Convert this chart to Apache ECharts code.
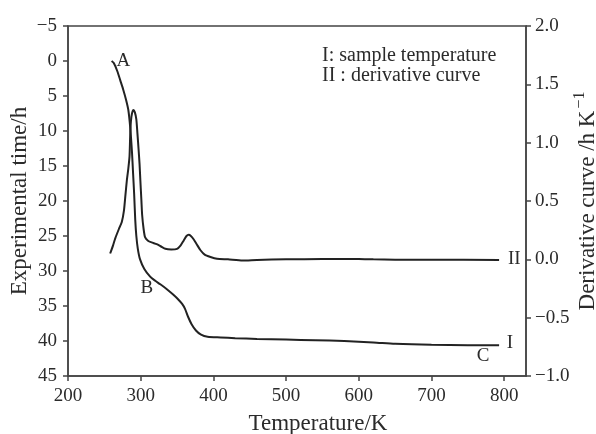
<!DOCTYPE html>
<html>
<head>
<meta charset="utf-8">
<script src="https://cdn.jsdelivr.net/npm/echarts@6/dist/echarts.min.js"></script>
<style>html,body{margin:0;padding:0;background:#fff}#c{width:596px;height:434px}</style>
</head>
<body>
<div id="c"></div>
<script>
// Curve I: sample temperature — [Temperature K, Experimental time h]
var curveI = [[260,0],[263,0.3],[268,1.5],[272,2.8],[276,4.1],[280,5.6],[283,7],[285.5,9.4],[288,13],[289.5,16],[291,19],[292.5,22.7],[294,25],[296,26.8],[299,28.3],[305,29.7],[313,30.8],[320,31.4],[327,31.9],[336,32.6],[345,33.4],[352,34.1],[357,34.7],[361,35.4],[365,36.5],[370,37.6],[376,38.5],[383,39.1],[392,39.4],[410,39.5],[430,39.6],[460,39.7],[500,39.8],[540,39.9],[580,40.0],[620,40.2],[650,40.4],[700,40.55],[750,40.6],[793,40.6]];
// Curve II: derivative curve — [Temperature K, derivative h/K]
var curveII = [[258,0.05],[262,0.12],[265,0.18],[270,0.26],[274,0.32],[277,0.42],[279,0.55],[281,0.68],[283,0.78],[284.6,0.88],[285.5,1.05],[286.5,1.18],[288,1.25],[290,1.28],[292,1.26],[294,1.2],[295.5,1.08],[297,0.95],[298.4,0.82],[299.5,0.68],[301,0.5],[302,0.38],[304,0.26],[306,0.19],[310,0.16],[315,0.145],[322,0.13],[328,0.11],[334,0.09],[342,0.085],[350,0.09],[355,0.12],[359,0.16],[363,0.2],[366,0.21],[369,0.2],[373,0.17],[377,0.13],[382,0.08],[388,0.04],[396,0.02],[405,0.005],[420,0],[440,-0.01],[460,-0.005],[500,0],[550,0.002],[600,0.003],[620,0],[650,-0.003],[700,-0.004],[793,-0.005]];
var xTicks = [200,300,400,500,600,700,800];
var leftTicks = [-5,0,5,10,15,20,25,30,35,40,45];
var rightTicks = [-1.0,-0.5,0.0,0.5,1.0,1.5,2.0];
// Point annotations (data coords)
var notesI = [{text:'A',coord:[276,0]},{text:'B',coord:[308.5,32.4]},{text:'C',coord:[771,42.1]},{text:'I',coord:[808,40.3]}];
var notesII = [{text:'II',coord:[814,0.0]}];

var FONT = '"Liberation Serif","Times New Roman",serif';
var INK = '#2b2b2b';
function minus(s){ return String(s).replace('-', '\u2212'); }

var chart = echarts.init(document.getElementById('c'), null, {renderer:'canvas'});
function mp(notes){
  return {
    symbol:'circle', symbolSize:1, silent:true,
    itemStyle:{color:'rgba(0,0,0,0)'},
    label:{show:true, fontFamily:FONT, fontSize:19, color:INK, position:'inside'},
    data: notes.map(function(n){ return {name:n.text, coord:n.coord, value:n.text, label:{show:true, formatter:n.text}}; })
  };
}
chart.setOption({
  animation:false,
  backgroundColor:'#fff',
  grid:{left:68, right:70, top:26, bottom:58, outerBoundsMode:'none', containLabel:false, show:true, borderColor:'#444', borderWidth:1.5, backgroundColor:'transparent'},
  graphic:[
    {type:'text', left:322, top:46, style:{text:'I: sample temperature', font:'20px '+FONT, fill:INK}},
    {type:'text', left:322, top:66, style:{text:'II : derivative curve', font:'20px '+FONT, fill:INK}}
  ],
  xAxis:{
    type:'value', min:200, max:830,
    name:'Temperature/K', nameLocation:'middle', nameGap:36, nameMoveOverlap:false,
    nameTextStyle:{fontFamily:FONT, fontSize:23, color:INK, padding:[0,0,0,42]},
    axisLine:{onZero:false, lineStyle:{color:'#444', width:1.5}},
    axisTick:{show:true, length:5, customValues:xTicks, lineStyle:{color:'#444', width:1.5}},
    axisLabel:{customValues:xTicks, fontFamily:FONT, fontSize:19, color:INK, margin:11},
    splitLine:{show:false}
  },
  yAxis:[{
    type:'value', min:-5, max:45, interval:5, inverse:true, position:'left',
    name:'Experimental time/h', nameLocation:'middle', nameGap:37, nameRotate:90, nameMoveOverlap:false,
    nameTextStyle:{fontFamily:FONT, fontSize:23, color:INK},
    axisLine:{show:true, onZero:false, lineStyle:{color:'#444', width:1.5}},
    axisTick:{show:true, length:5, lineStyle:{color:'#444', width:1.5}},
    axisLabel:{fontFamily:FONT, fontSize:19, color:INK, margin:11, formatter:function(v){return minus(v);}},
    splitLine:{show:false}
  },{
    type:'value', min:-1, max:2, interval:0.5, position:'right',
    name:'{a|Derivative curve /h K}{s|\u22121}', nameLocation:'middle', nameGap:46, nameRotate:90, nameMoveOverlap:false,
    nameTextStyle:{fontFamily:FONT, fontSize:23, color:INK,
      rich:{a:{fontFamily:FONT, fontSize:23, color:INK}, s:{fontFamily:FONT, fontSize:16, color:INK, padding:[0,0,15,2]}}},
    axisLine:{show:true, onZero:false, lineStyle:{color:'#444', width:1.5}},
    axisTick:{show:true, length:5, lineStyle:{color:'#444', width:1.5}},
    axisLabel:{fontFamily:FONT, fontSize:19, color:INK, margin:9, formatter:function(v){return minus(v.toFixed(1));}},
    splitLine:{show:false}
  }],
  series:[{
    name:'I', type:'line', yAxisIndex:0, data:curveI, showSymbol:false, smooth:0.25,
    lineStyle:{color:'#222', width:2}, markPoint:mp(notesI)
  },{
    name:'II', type:'line', yAxisIndex:1, data:curveII, showSymbol:false, smooth:0.2,
    lineStyle:{color:'#222', width:2}, markPoint:mp(notesII)
  }]
});
</script>
</body>
</html>
